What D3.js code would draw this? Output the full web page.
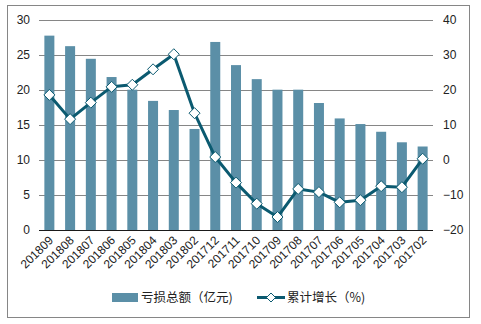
<!DOCTYPE html>
<html><head><meta charset="utf-8">
<script src="https://cdn.jsdelivr.net/npm/d3@7"></script>
<style>body{margin:0;background:#fff}svg{display:block}</style>
</head><body>
<script>
const categories = ["201809","201808","201807","201806","201805","201804","201803","201802","201712","201711","201710","201709","201708","201707","201706","201705","201704","201703","201702"];
const lossValues = [27.7,26.2,24.4,21.8,20.0,18.4,17.1,14.4,26.8,23.5,21.5,20.0,20.0,18.1,15.9,15.1,14.0,12.5,11.9];
const growthValues = [18.5,11.6,16.3,20.8,21.4,25.8,30.1,13.3,0.8,-6.5,-12.5,-16.3,-8.3,-9.2,-12.1,-11.5,-7.5,-7.8,0.3];
const leftTicks = [0,5,10,15,20,25,30];
const rightTicks = [-20,-10,0,10,20,30,40];
const legendLabels = ["亏损总额（亿元)","累计增长（%)"];

const W=481,H=324;
const barColor="#5b8fa7", lineColor="#0b5a70";
const svg=d3.select("body").append("svg").attr("width",W).attr("height",H);
svg.append("rect").attr("x",7.5).attr("y",5.5).attr("width",462).attr("height",312).attr("fill","#fff").attr("stroke","#868686").attr("stroke-width",1);

const x0=39,x1=433,yTop=19.5,yBot=230;
const x=d3.scaleBand().domain(categories).range([x0,x1]).paddingInner(0.52).paddingOuter(0.26);
const xc=d3.scalePoint().domain(categories).range([x0,x1]).padding(0.5);
const yL=d3.scaleLinear().domain([0,30]).range([yBot,yTop]);
const yR=d3.scaleLinear().domain([-20,40]).range([yBot,yTop]);

// gridlines
svg.append("g").selectAll("line").data(leftTicks.filter(d=>d>0)).join("line")
  .attr("x1",x0).attr("x2",x1).attr("y1",d=>Math.round(yL(d))+0.5).attr("y2",d=>Math.round(yL(d))+0.5)
  .attr("stroke","#868686").attr("stroke-width",1);

// bars
svg.append("g").selectAll("rect").data(categories).join("rect")
  .attr("x",(d)=>xc(d)-5).attr("width",10)
  .attr("y",(d,i)=>yL(lossValues[i])).attr("height",(d,i)=>yBot-yL(lossValues[i]))
  .attr("fill",barColor);

// x axis line
svg.append("line").attr("x1",x0).attr("x2",x1).attr("y1",yBot+0.5).attr("y2",yBot+0.5).attr("stroke","#1a1a1a").attr("stroke-width",1);

// left axis
const font="Liberation Sans, Arial, sans-serif";
const gl=svg.append("g").attr("transform",`translate(${x0},0)`)
  .call(d3.axisLeft(yL).tickValues(leftTicks).tickSize(0).tickPadding(9));
gl.select(".domain").remove();
gl.selectAll("text").attr("font-family",font).attr("font-size",12).attr("fill","#222");

const gr=svg.append("g").attr("transform",`translate(${x1},0)`)
  .call(d3.axisRight(yR).tickValues(rightTicks).tickSize(0).tickPadding(10));
gr.select(".domain").remove();
gr.selectAll("text").attr("font-family",font).attr("font-size",12).attr("fill","#222");

// x labels
const gx=svg.append("g").attr("transform",`translate(0,${yBot})`)
  .call(d3.axisBottom(xc).tickSize(0).tickPadding(0));
gx.select(".domain").remove();
gx.selectAll("text").attr("font-family",font).attr("font-size",12).attr("fill","#222")
  .attr("text-anchor","end").attr("dy","0").attr("transform","translate(4,11) rotate(-45)");

// line
const line=d3.line().x((d,i)=>xc(categories[i])).y(d=>yR(d));
svg.append("path").datum(growthValues).attr("d",line).attr("fill","none")
  .attr("stroke",lineColor).attr("stroke-width",3).attr("stroke-linejoin","round");
const diamond=(cx,cy,r)=>`M${cx},${cy-r}L${cx+r},${cy}L${cx},${cy+r}L${cx-r},${cy}Z`;
svg.append("g").selectAll("path").data(growthValues).join("path")
  .attr("d",(d,i)=>diamond(xc(categories[i]),yR(d),5.5))
  .attr("fill","#fff").attr("stroke",lineColor).attr("stroke-width",1);

// legend
const cjk="Noto Sans CJK SC, sans-serif";
svg.append("rect").attr("x",112).attr("y",293).attr("width",26).attr("height",9).attr("fill",barColor);
svg.append("text").attr("x",141).attr("y",302).text(legendLabels[0])
  .attr("font-family",cjk).attr("font-size",12.5).attr("fill","#222");
svg.append("line").attr("x1",257).attr("x2",285).attr("y1",297.5).attr("y2",297.5).attr("stroke",lineColor).attr("stroke-width",3);
svg.append("path").attr("d",diamond(271,297.5,4.5)).attr("fill","#fff").attr("stroke",lineColor).attr("stroke-width",1);
svg.append("text").attr("x",287).attr("y",302).text(legendLabels[1])
  .attr("font-family",cjk).attr("font-size",12.5).attr("fill","#222");
</script>
</body></html>
